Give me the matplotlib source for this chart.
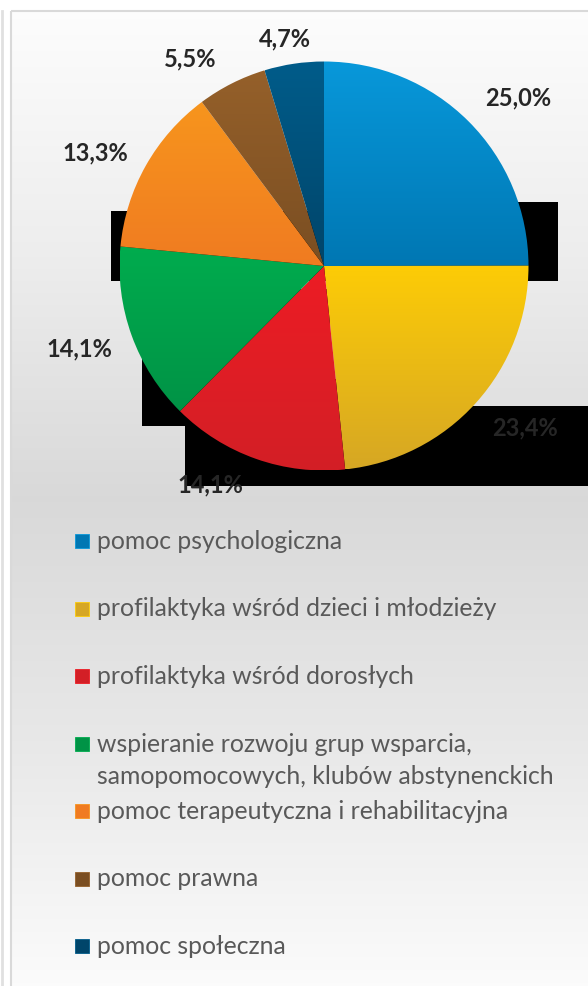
import numpy as np
import matplotlib
matplotlib.use("Agg")
from matplotlib import pyplot as plt
from matplotlib.patches import Rectangle
from matplotlib.colors import LinearSegmentedColormap

W, H = 588, 987

categories = [
    "pomoc psychologiczna",
    "profilaktyka wśród dzieci i młodzieży",
    "profilaktyka wśród dorosłych",
    "wspieranie rozwoju grup wsparcia,\nsamopomocowych, klubów abstynenckich",
    "pomoc terapeutyczna i rehabilitacyjna",
    "pomoc prawna",
    "pomoc społeczna",
]
shares = [25.0, 23.4, 14.1, 14.1, 13.3, 5.5, 4.7]
share_labels = ["25,0%", "23,4%", "14,1%", "14,1%", "13,3%", "5,5%", "4,7%"]

# gradient (top, bottom) for every slice
slice_colors = [
    ("#0898da", "#0077b3"),
    ("#fdcc06", "#d6a724"),
    ("#ed1c24", "#d31f26"),
    ("#00ac4e", "#009346"),
    ("#f7951d", "#f07b21"),
    ("#95602a", "#7a4e22"),
    ("#015c8a", "#00456a"),
]
# label placement: distance (in radii) and angle shift from slice middle (deg)
label_radius = [1.26, 1.26, 1.20, 1.26, 1.25, 1.21, 1.13]
label_shift = [-4.0, 3.2, -8.1, -1.3, 2.9, 6.0, 1.2]

plt.rcParams['font.family'] = ['Lato', 'DejaVu Sans']

fig = plt.figure(figsize=(W / 100, H / 100), dpi=100)
fig.patch.set_facecolor("white")

# background axes in pixel units
bg = fig.add_axes([0, 0, 1, 1])
bg.set_xlim(0, W)
bg.set_ylim(H, 0)
bg.axis("off")

ys = np.linspace(0, 1, 400)
shade = np.interp(ys, [0.0, 0.25, 0.5, 0.75, 1.0], [0.99, 0.93, 0.85, 0.91, 0.985])
grad = np.repeat(shade[:, None], 2, axis=1)
bg.imshow(np.dstack([grad, grad, grad]), extent=[11, W + 5, H, 12],
          aspect="auto", zorder=0, interpolation="bilinear")
bg.add_patch(Rectangle((11, 12), W, H, fill=False, edgecolor="#d9d9d9", lw=1.5, zorder=1))
bg.plot([1.5, 1.5], [12, H], color="#e0e0e0", lw=2, zorder=1)

# black blocks behind the pie (label backgrounds in the original)
for x0, y0, x1, y1 in [(111, 212, 330, 282), (320, 203, 558, 282),
                       (142, 290, 330, 427), (185, 380, 413, 487),
                       (413, 407, W + 2, 487)]:
    bg.add_patch(Rectangle((x0, y0), x1 - x0, y1 - y0, facecolor="black",
                           edgecolor="none", zorder=2))

# pie axes: centre (324, 267) px, radius 204.5 px
R = 204.5
lim = 1.4
side = 2 * R * lim
cx, cy = 324, 267
ax = fig.add_axes([(cx - side / 2) / W, (H - cy - side / 2) / H, side / W, side / H])
ax.axis("off")
ax.patch.set_alpha(0)

wedges, _ = ax.pie(shares, startangle=90, counterclock=False, radius=1,
                   wedgeprops=dict(linewidth=0))
for w, (ctop, cbot) in zip(wedges, slice_colors):
    w.set_facecolor("none")
    ext = w.get_path().get_extents()
    cmap = LinearSegmentedColormap.from_list("g", [cbot, ctop])
    img = ax.imshow(np.linspace(0, 1, 256)[:, None], cmap=cmap, origin="lower",
                    extent=[ext.x0, ext.x1, ext.y0, ext.y1], aspect="auto",
                    interpolation="bilinear", zorder=1)
    img.set_clip_path(w)

ax.set_xlim(-lim, lim)
ax.set_ylim(-lim, lim)

for w, lab, r, sh in zip(wedges, share_labels, label_radius, label_shift):
    ang = np.deg2rad((w.theta1 + w.theta2) / 2 + sh)
    ax.text(r * np.cos(ang), r * np.sin(ang), lab, ha="center", va="center",
            fontsize=17, fontweight="bold", color="#262626", zorder=5, clip_on=False)

# legend
slot_y0, slot_step, line_step = 542, 67.5, 33
for i, (name, (ctop, cbot)) in enumerate(zip(categories, slice_colors)):
    y = slot_y0 + i * slot_step
    bg.add_patch(Rectangle((75, y - 7), 14, 14, facecolor=cbot, edgecolor=ctop,
                           lw=0.6, zorder=3))
    for j, line in enumerate(name.split("\n")):
        bg.text(97, y + 7 + j * line_step, line, ha="left", va="baseline",
                fontsize=17.8, color="#595959", zorder=3)

fig.savefig("out.png", dpi=100)
